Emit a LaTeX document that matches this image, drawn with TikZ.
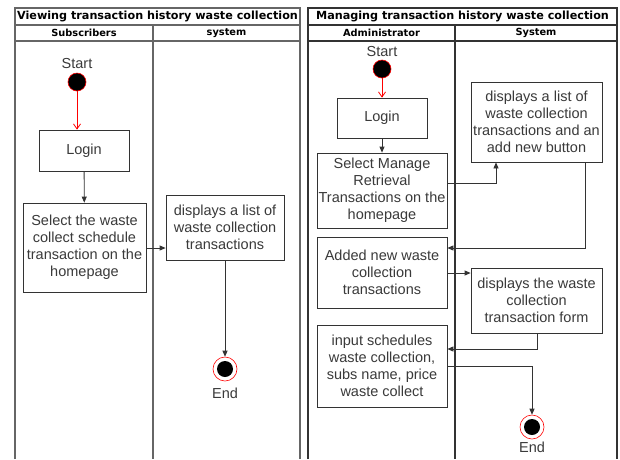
\documentclass[tikz,border=0pt]{standalone}
\usepackage{fontspec}
\setmainfont{Liberation Sans}
\newfontfamily\hdrfont{DejaVu Sans}
\usetikzlibrary{arrows.meta}
\definecolor{boxline}{HTML}{333333}
\definecolor{txt}{HTML}{3A3A3A}
\definecolor{poolL}{HTML}{666666}
\definecolor{poolR}{HTML}{333333}
\begin{document}
\begin{tikzpicture}[x=1pt,y=-1pt,
  actbox/.style={draw=boxline, line width=0.8pt, rectangle, inner sep=0pt, align=center,
     text=txt, font=\fontsize{14.5}{17}\selectfont},
  startdot/.style={circle, fill=black, draw=red, line width=0.6pt, minimum size=18pt, inner sep=0pt},
  enddot/.style={circle, draw=red, line width=0.6pt, minimum size=24pt, inner sep=0pt,
     path picture={\fill[black] (path picture bounding box.center) circle (8pt);}},
  lbl/.style={text=txt, font=\fontsize{14.5}{17}\selectfont, inner sep=0pt},
  ttl/.style={font=\hdrfont\bfseries\fontsize{11.2}{13}\selectfont, inner sep=0pt},
  hdr/.style={font=\hdrfont\bfseries\fontsize{9.8}{11}\selectfont, inner sep=0pt},
  arr/.style={draw=boxline, line width=0.8pt, -{Triangle[length=6pt,width=5pt]}},
  redarr/.style={draw=red, line width=0.8pt, -{Straight Barb[length=5pt,width=7pt]}},
]
\useasboundingbox (0,0) rectangle (620,459);
\fill[white] (0,0) rectangle (620,459);

% ---------- left pool ----------
\draw[poolL, line width=1.2pt] (15,459) -- (15,8) -- (300,8) -- (300,459);
\draw[poolL, line width=1.2pt] (15,25) -- (300,25);
\draw[poolL, line width=1.2pt] (15,41) -- (300,41);
\draw[poolL, line width=1.2pt] (153,25) -- (153,459);
\node[ttl] (tL) at (157.5,16.5) {Viewing transaction history waste collection};
\node[hdr] (hL1) at (84,33) {Subscribers};
\node[hdr] (hL2) at (226.5,33) {system};

% ---------- right pool ----------
\draw[poolR, line width=1.2pt] (308,459) -- (308,8) -- (617,8) -- (617,459);
\draw[poolR, line width=1.2pt] (308,25) -- (617,25);
\draw[poolR, line width=1.2pt] (308,41) -- (617,41);
\draw[poolR, line width=1.2pt] (455,25) -- (455,459);
\node[ttl] (tR) at (462.5,16.5) {Managing transaction history waste collection};
\node[hdr] (hR1) at (381.5,33) {Administrator};
\node[hdr] (hR2) at (536,33) {System};

% ---------- left diagram ----------
\node[lbl] (startLt) at (77,64) {Start};
\node[startdot] (startL) at (77,82) {};
\node[actbox, minimum width=90pt, minimum height=41pt] (loginL) at (84,150.5) {Login};
\node[actbox, minimum width=123pt, minimum height=89pt] (selL) at (84.5,247.5)
  {Select the waste\\collect schedule\\transaction on the\\homepage};
\node[actbox, minimum width=118pt, minimum height=65pt] (dispL) at (225,227.5)
  {displays a list of\\waste collection\\transactions};
\node[enddot] (endL) at (225,369) {};
\node[lbl] (endLt) at (225,393) {End};

\draw[redarr] (startL) -- (startL |- loginL.north);
\draw[arr] (loginL) -- (selL);
\coordinate (cL) at (0,248);
\draw[arr] (selL.east |- cL) -- (dispL.west |- cL);
\draw[arr] (dispL) -- (endL);

% ---------- right diagram ----------
\node[lbl] (startRt) at (382,52) {Start};
\node[startdot] (startR) at (382,69) {};
\node[actbox, minimum width=90pt, minimum height=40pt] (loginR) at (382,118) {Login};
\node[actbox, minimum width=130pt, minimum height=75pt] (selR) at (382,190.5)
  {Select Manage\\Retrieval\\Transactions on the\\homepage};
\node[actbox, minimum width=131pt, minimum height=80pt] (disp1) at (536.5,122)
  {displays a list of\\waste collection\\transactions and an\\add new button};
\node[actbox, minimum width=130pt, minimum height=71pt] (addR) at (382,272.5)
  {Added new waste\\collection\\transactions};
\node[actbox, minimum width=131pt, minimum height=65pt] (disp2) at (536.5,300.5)
  {displays the waste\\collection\\transaction form};
\node[actbox, minimum width=130pt, minimum height=82pt] (inR) at (382,366)
  {input schedules\\waste collection,\\subs name, price\\waste collect};
\node[enddot] (endR) at (532,427) {};
\node[lbl] (endRt) at (532,447) {End};

\draw[redarr] (startR) -- (loginR);
\draw[arr] (loginR) -- (selR);
\coordinate (c1) at (496,183);
\draw[arr] (selR.east |- c1) -| (c1 |- disp1.south);
\coordinate (c2) at (585,248);
\draw[arr] (disp1.south -| c2) |- (addR.east |- c2);
\coordinate (c3) at (0,273);
\draw[arr] (addR.east |- c3) -- (disp2.west |- c3);
\coordinate (c4) at (537,349);
\draw[arr] (disp2.south -| c4) |- (inR.east |- c4);
\coordinate (c5) at (532,366);
\draw[arr] (inR.east |- c5) -| (endR);
\end{tikzpicture}
\end{document}
